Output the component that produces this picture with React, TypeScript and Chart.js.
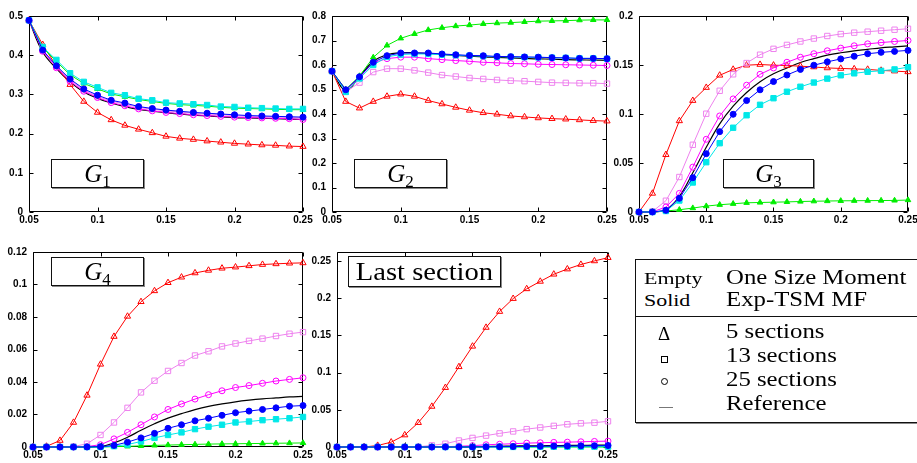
import React, { useEffect, useRef } from "react";
import { Chart, registerables } from "chart.js";

Chart.register(...registerables);

// ---------- data ----------
const X_VALUES = [0.05, 0.06, 0.07, 0.08, 0.09, 0.1, 0.11, 0.12, 0.13, 0.14, 0.15, 0.16, 0.17, 0.18, 0.19, 0.2, 0.21, 0.22, 0.23, 0.24, 0.25];

// G1
const G1_EMPTY_5 = [0.489, 0.427, 0.372, 0.325, 0.282, 0.254, 0.235, 0.221, 0.211, 0.202, 0.193, 0.188, 0.185, 0.181, 0.178, 0.175, 0.173, 0.171, 0.17, 0.168, 0.167];
const G1_EMPTY_13 = [0.489, 0.412, 0.371, 0.337, 0.311, 0.295, 0.283, 0.275, 0.267, 0.262, 0.258, 0.255, 0.252, 0.25, 0.248, 0.246, 0.244, 0.243, 0.242, 0.241, 0.24];
const G1_EMPTY_25 = [0.489, 0.41, 0.368, 0.333, 0.308, 0.292, 0.279, 0.271, 0.263, 0.258, 0.254, 0.251, 0.248, 0.246, 0.244, 0.242, 0.241, 0.24, 0.239, 0.238, 0.236];
const G1_SOLID_5 = [0.489, 0.419, 0.384, 0.35, 0.328, 0.314, 0.301, 0.294, 0.287, 0.282, 0.277, 0.274, 0.272, 0.27, 0.267, 0.265, 0.264, 0.263, 0.262, 0.261, 0.261];
const G1_SOLID_13 = [0.489, 0.421, 0.388, 0.354, 0.332, 0.318, 0.304, 0.298, 0.289, 0.285, 0.279, 0.277, 0.275, 0.273, 0.269, 0.268, 0.266, 0.265, 0.264, 0.263, 0.263];
const G1_SOLID_25 = [0.489, 0.413, 0.373, 0.339, 0.314, 0.298, 0.285, 0.278, 0.269, 0.264, 0.26, 0.257, 0.254, 0.252, 0.25, 0.248, 0.246, 0.245, 0.244, 0.243, 0.242];
const G1_REF = [0.489, 0.408, 0.366, 0.332, 0.306, 0.29, 0.278, 0.269, 0.262, 0.257, 0.253, 0.25, 0.247, 0.245, 0.243, 0.241, 0.24, 0.239, 0.238, 0.237, 0.236];

// G2
const G2_EMPTY_5 = [0.575, 0.451, 0.424, 0.451, 0.472, 0.481, 0.472, 0.455, 0.441, 0.427, 0.415, 0.405, 0.399, 0.392, 0.388, 0.384, 0.381, 0.379, 0.376, 0.373, 0.371];
const G2_EMPTY_13 = [0.575, 0.491, 0.528, 0.571, 0.585, 0.585, 0.578, 0.569, 0.559, 0.553, 0.547, 0.543, 0.539, 0.536, 0.534, 0.531, 0.528, 0.527, 0.526, 0.526, 0.524];
const G2_EMPTY_25 = [0.575, 0.495, 0.55, 0.609, 0.626, 0.632, 0.632, 0.626, 0.622, 0.618, 0.615, 0.611, 0.609, 0.606, 0.605, 0.603, 0.602, 0.601, 0.6, 0.599, 0.598];
const G2_SOLID_5 = [0.575, 0.5, 0.555, 0.631, 0.68, 0.709, 0.727, 0.743, 0.752, 0.759, 0.763, 0.768, 0.771, 0.773, 0.776, 0.779, 0.78, 0.781, 0.783, 0.784, 0.784];
const G2_SOLID_13 = [0.575, 0.49, 0.545, 0.6, 0.633, 0.643, 0.645, 0.645, 0.642, 0.64, 0.638, 0.636, 0.634, 0.633, 0.632, 0.631, 0.63, 0.629, 0.627, 0.627, 0.625];
const G2_SOLID_25 = [0.575, 0.499, 0.552, 0.611, 0.638, 0.649, 0.649, 0.649, 0.645, 0.642, 0.639, 0.638, 0.635, 0.634, 0.633, 0.632, 0.63, 0.629, 0.627, 0.627, 0.626];
const G2_REF = [0.575, 0.497, 0.553, 0.615, 0.642, 0.65, 0.65, 0.647, 0.643, 0.639, 0.636, 0.633, 0.631, 0.629, 0.627, 0.625, 0.624, 0.622, 0.621, 0.62, 0.619];

// G3
const G3_EMPTY_5 = [0, 0.019, 0.0585, 0.093, 0.1137, 0.127, 0.1395, 0.1455, 0.1498, 0.1505, 0.1498, 0.1495, 0.1488, 0.148, 0.147, 0.1465, 0.146, 0.1455, 0.1445, 0.1438, 0.143];
const G3_EMPTY_13 = [0, 0.0005, 0.0115, 0.0357, 0.0686, 0.1003, 0.1237, 0.1405, 0.152, 0.1605, 0.1665, 0.1705, 0.174, 0.177, 0.1796, 0.1816, 0.183, 0.184, 0.185, 0.186, 0.187];
const G3_EMPTY_25 = [0, 0.0002, 0.005, 0.019, 0.0458, 0.0742, 0.098, 0.1154, 0.1294, 0.1405, 0.147, 0.1528, 0.1579, 0.1615, 0.1645, 0.1672, 0.1696, 0.1716, 0.1729, 0.174, 0.175];
const G3_SOLID_5 = [0, 0.0002, 0.001, 0.0023, 0.004, 0.006, 0.0074, 0.0084, 0.0094, 0.0097, 0.01, 0.0103, 0.0107, 0.011, 0.0112, 0.0114, 0.0115, 0.0116, 0.0117, 0.0118, 0.0122];
const G3_SOLID_13 = [0, 0, 0.001, 0.0117, 0.0301, 0.0508, 0.0702, 0.086, 0.0987, 0.1094, 0.1161, 0.1227, 0.1278, 0.1321, 0.1361, 0.1395, 0.1415, 0.1431, 0.1441, 0.1455, 0.1478];
const G3_SOLID_25 = [0, 0, 0.0017, 0.014, 0.035, 0.0595, 0.082, 0.0997, 0.1137, 0.1247, 0.1331, 0.1398, 0.1455, 0.1498, 0.1532, 0.1562, 0.1589, 0.1615, 0.1629, 0.1639, 0.1649];
const G3_REF = [0, 0, 0.002, 0.016, 0.04, 0.066, 0.09, 0.108, 0.122, 0.133, 0.141, 0.147, 0.1525, 0.1565, 0.16, 0.1625, 0.1645, 0.166, 0.1675, 0.1685, 0.1695];

// G4
const G4_EMPTY_5 = [0, 0.0004, 0.004, 0.0151, 0.0318, 0.0509, 0.068, 0.0804, 0.0894, 0.0961, 0.1011, 0.1045, 0.1071, 0.1087, 0.11, 0.1107, 0.1115, 0.1123, 0.1127, 0.1131, 0.1133];
const G4_EMPTY_13 = [0, 0, 0, 0.0003, 0.002, 0.0074, 0.0151, 0.0241, 0.0336, 0.0408, 0.0468, 0.0517, 0.0563, 0.0589, 0.0619, 0.0637, 0.0653, 0.0667, 0.0683, 0.0697, 0.0707];
const G4_EMPTY_25 = [0, 0, 0, 0, 0.0003, 0.0014, 0.005, 0.009, 0.0137, 0.0185, 0.0231, 0.0265, 0.0295, 0.0322, 0.0346, 0.0366, 0.0378, 0.0392, 0.0406, 0.0416, 0.0426];
const G4_SOLID_5 = [0, 0, 0, 0, 0, 0, 0.0002, 0.0004, 0.0007, 0.001, 0.0012, 0.0014, 0.0016, 0.0018, 0.0019, 0.002, 0.0021, 0.0022, 0.0023, 0.0024, 0.0025];
const G4_SOLID_13 = [0, 0, 0, 0, 0, 0, 0.0005, 0.0015, 0.0034, 0.0056, 0.0074, 0.009, 0.011, 0.0125, 0.0137, 0.0151, 0.0157, 0.0165, 0.0171, 0.0177, 0.0185];
const G4_SOLID_25 = [0, 0, 0, 0, 0, 0.0002, 0.001, 0.003, 0.0056, 0.0084, 0.0115, 0.0137, 0.0161, 0.0177, 0.0195, 0.0211, 0.0221, 0.0231, 0.0241, 0.0251, 0.0255];
const G4_REF = [0, 0, 0, 0, 0, 0.0003, 0.0025, 0.006, 0.0103, 0.0143, 0.0178, 0.0205, 0.023, 0.025, 0.0265, 0.0278, 0.0288, 0.0296, 0.0302, 0.0308, 0.0311];

// Last section
const LS_EMPTY_5 = [0, 0, 0, 0.002, 0.0065, 0.0161, 0.0327, 0.0545, 0.0798, 0.1078, 0.1353, 0.1606, 0.182, 0.1994, 0.2125, 0.2225, 0.2321, 0.2391, 0.2452, 0.25, 0.2544];
const LS_EMPTY_13 = [0, 0, 0, 0, 0, 0, 0.0003, 0.0022, 0.0044, 0.0087, 0.0122, 0.0153, 0.0183, 0.0209, 0.024, 0.0262, 0.0284, 0.0305, 0.0318, 0.0327, 0.0345];
const LS_EMPTY_25 = [0, 0, 0, 0, 0, 0, 0, 0, 0.0004, 0.001, 0.0018, 0.003, 0.0037, 0.0044, 0.0052, 0.0057, 0.0062, 0.0065, 0.007, 0.0075, 0.0079];
const LS_SOLID_5 = [0, 0, 0, 0, 0, 0, 0, 0, 0, 0, 0, 0, 0, 0, 0, 0, 0, 0, 0, 0, 0];
const LS_SOLID_13 = [0, 0, 0, 0, 0, 0, 0, 0, 0, 0, 0, 0, 0.0001, 0.0001, 0.0002, 0.0002, 0.0003, 0.0003, 0.0004, 0.0004, 0.0005];
const LS_SOLID_25 = [0, 0, 0, 0, 0, 0, 0, 0, 0, 0, 0, 0.0002, 0.0004, 0.0006, 0.0008, 0.001, 0.0012, 0.0014, 0.0016, 0.0018, 0.002];
const LS_REF = [0, 0, 0, 0, 0, 0, 0, 0, 0, 0.0002, 0.0004, 0.0007, 0.001, 0.0013, 0.0015, 0.0017, 0.0019, 0.0021, 0.0022, 0.0024, 0.0025];

const LEGEND_HEAD = ["Empty", "Solid"];
const LEGEND_METHODS = ["One Size Moment", "Exp-TSM MF"];
const LEGEND_ROWS = ["5 sections", "13 sections", "25 sections", "Reference"];

// ---------- styles ----------
type StyleKey = "solid25" | "solid13" | "solid5" | "empty25" | "empty13" | "empty5" | "ref";
const DRAW_ORDER: StyleKey[] = ["solid25", "solid13", "solid5", "empty25", "empty13", "empty5", "ref"];
const SERIES_STYLE: Record<StyleKey, { color: string; shape: any; filled: boolean; r: number; lw: number }> = {
  solid25: { color: "#0000ff", shape: "circle", filled: true, r: 3, lw: 1 },
  solid13: { color: "#00e8e8", shape: "rect", filled: true, r: 3.8, lw: 1 },
  solid5: { color: "#00ee00", shape: "triangle", filled: true, r: 3.2, lw: 1 },
  empty25: { color: "#ff00ff", shape: "circle", filled: false, r: 3, lw: 1 },
  empty13: { color: "#ee82ee", shape: "rect", filled: false, r: 3.8, lw: 1 },
  empty5: { color: "#ff0000", shape: "triangle", filled: false, r: 3.6, lw: 1 },
  ref: { color: "#000000", shape: false, filled: false, r: 0, lw: 1.2 },
};

const AXIS_W = 30;
const AXIS_H = 15;
const PAD_T = 8;
const PAD_R = 14;

type Panel = {
  id: string;
  left: number; top: number; right: number; bottom: number;
  yMax: number; yStep: number;
  series: Record<StyleKey, number[]>;
};

const PANELS: Panel[] = [
  { id: "g1", left: 29, top: 12, right: 303, bottom: 212, yMax: 0.5, yStep: 0.1,
    series: { empty5: G1_EMPTY_5, empty13: G1_EMPTY_13, empty25: G1_EMPTY_25, solid5: G1_SOLID_5, solid13: G1_SOLID_13, solid25: G1_SOLID_25, ref: G1_REF } },
  { id: "g2", left: 332, top: 12, right: 607, bottom: 212, yMax: 0.8, yStep: 0.1,
    series: { empty5: G2_EMPTY_5, empty13: G2_EMPTY_13, empty25: G2_EMPTY_25, solid5: G2_SOLID_5, solid13: G2_SOLID_13, solid25: G2_SOLID_25, ref: G2_REF } },
  { id: "g3", left: 639, top: 12, right: 908, bottom: 212, yMax: 0.2, yStep: 0.05,
    series: { empty5: G3_EMPTY_5, empty13: G3_EMPTY_13, empty25: G3_EMPTY_25, solid5: G3_SOLID_5, solid13: G3_SOLID_13, solid25: G3_SOLID_25, ref: G3_REF } },
  { id: "g4", left: 33, top: 248, right: 303, bottom: 447, yMax: 0.12, yStep: 0.02,
    series: { empty5: G4_EMPTY_5, empty13: G4_EMPTY_13, empty25: G4_EMPTY_25, solid5: G4_SOLID_5, solid13: G4_SOLID_13, solid25: G4_SOLID_25, ref: G4_REF } },
  { id: "last", left: 337, top: 248, right: 608, bottom: 447, yMax: 0.262, yStep: 0.05,
    series: { empty5: LS_EMPTY_5, empty13: LS_EMPTY_13, empty25: LS_EMPTY_25, solid5: LS_SOLID_5, solid13: LS_SOLID_13, solid25: LS_SOLID_25, ref: LS_REF } },
];

const fmt = (v: number) => String(Number(Number(v).toFixed(3)));
const TICK_FONT = { family: "'Liberation Sans', Arial, sans-serif", size: 10, weight: "bold" as const };

const framePlugin = {
  id: "frame",
  beforeDatasetsDraw(chart: any) {
    const { ctx, chartArea, scales } = chart;
    const { left, top, right, bottom } = chartArea;
    const L = Math.round(left) + 0.5, R = Math.round(right) - 0.5;
    const T = Math.round(top) + 0.5, B = Math.round(bottom) - 0.5;
    ctx.save();
    ctx.strokeStyle = "#000";
    ctx.lineWidth = 1;
    ctx.beginPath();
    ctx.rect(L, T, R - L, B - T);
    const tl = 4;
    scales.x.ticks.forEach((t: any) => {
      const px = Math.round(scales.x.getPixelForValue(t.value)) + 0.5;
      ctx.moveTo(px, B); ctx.lineTo(px, B - tl);
      ctx.moveTo(px, T); ctx.lineTo(px, T + tl);
    });
    scales.y.ticks.forEach((t: any) => {
      const py = Math.round(scales.y.getPixelForValue(t.value)) + 0.5;
      ctx.moveTo(L, py); ctx.lineTo(L + tl, py);
      ctx.moveTo(R, py); ctx.lineTo(R - tl, py);
    });
    ctx.stroke();
    ctx.restore();
  },
};

function PanelChart({ panel }: { panel: Panel }) {
  const ref = useRef<HTMLCanvasElement | null>(null);
  const W = panel.right - panel.left + AXIS_W + PAD_R;
  const H = panel.bottom - panel.top + PAD_T + AXIS_H;
  useEffect(() => {
    if (!ref.current) return;
    const datasets = DRAW_ORDER.map((key) => {
      const st = SERIES_STYLE[key];
      const vals = panel.series[key];
      return {
        label: key,
        data: X_VALUES.map((x, i) => ({ x, y: vals[i] })),
        borderColor: st.color,
        backgroundColor: st.color,
        borderWidth: st.lw,
        pointStyle: st.shape,
        pointRadius: st.r,
        pointBorderWidth: 1,
        pointBorderColor: st.color,
        pointBackgroundColor: st.filled ? st.color : "rgba(0,0,0,0)",
        tension: key === "ref" ? 0.4 : 0,
        fill: false,
        clip: false as any,
      };
    });
    const chart = new Chart(ref.current, {
      type: "line",
      data: { datasets },
      options: {
        animation: false,
        responsive: false,
        maintainAspectRatio: false,
        events: [],
        layout: { padding: { top: PAD_T, right: PAD_R, left: 0, bottom: 0 } },
        plugins: { legend: { display: false }, tooltip: { enabled: false } },
        scales: {
          x: {
            type: "linear",
            min: 0.05,
            max: 0.25,
            afterFit: (s: any) => { s.height = AXIS_H; },
            grid: { display: false, drawTicks: false },
            border: { display: false },
            ticks: {
              stepSize: 0.05, includeBounds: false, autoSkip: false, maxRotation: 0,
              padding: 2, color: "#000", font: TICK_FONT,
              callback: (v: any) => fmt(v),
            },
          },
          y: {
            type: "linear",
            min: 0,
            max: panel.yMax,
            afterFit: (s: any) => { s.width = AXIS_W; },
            grid: { display: false, drawTicks: false },
            border: { display: false },
            ticks: {
              stepSize: panel.yStep, includeBounds: false, autoSkip: false,
              padding: 6, color: "#000", font: TICK_FONT,
              callback: (v: any) => fmt(v),
            },
          },
        },
      } as any,
      plugins: [framePlugin],
    });
    return () => chart.destroy();
  }, [panel]);
  return (
    <canvas
      ref={ref}
      width={W}
      height={H}
      style={{ position: "absolute", left: panel.left - AXIS_W, top: panel.top - PAD_T, width: W, height: H }}
    />
  );
}

const SERIF = "'Liberation Serif', 'Times New Roman', serif";

function LabelBox({ left, top, width, height, children }: any) {
  return (
    <div
      style={{
        position: "absolute", left, top, width, height, boxSizing: "border-box",
        border: "1px solid #111", boxShadow: "1px 1px 0 #888", background: "#fff",
        display: "flex", alignItems: "center", justifyContent: "center",
        fontFamily: SERIF, color: "#000", whiteSpace: "nowrap",
      }}
    >
      {children}
    </div>
  );
}

function GLabel({ n }: { n: string }) {
  return (
    <span style={{ fontSize: 25, lineHeight: 1 }}>
      <span style={{ fontStyle: "italic" }}>G</span>
      <span style={{ fontSize: 17, position: "relative", top: 5 }}>{n}</span>
    </span>
  );
}

function Txt({ x, baseline, size, scale, children }: any) {
  return (
    <div
      style={{
        position: "absolute", left: x, top: baseline - 0.8375 * size,
        fontFamily: SERIF, fontSize: size, lineHeight: `${size}px`, color: "#000",
        whiteSpace: "nowrap", transform: `scaleX(${scale})`, transformOrigin: "0 0",
      }}
    >
      {children}
    </div>
  );
}

export default function App() {
  return (
    <div style={{ position: "fixed", left: 0, top: 0, width: 917, height: 463, background: "#fff", overflow: "hidden" }}>
      {PANELS.map((p) => <PanelChart key={p.id} panel={p} />)}

      <LabelBox left={51} top={159} width={93} height={29}><GLabel n="1" /></LabelBox>
      <LabelBox left={354} top={159} width={93} height={29}><GLabel n="2" /></LabelBox>
      <LabelBox left={723} top={159} width={91} height={29}><GLabel n="3" /></LabelBox>
      <LabelBox left={51} top={257} width={93} height={29}><GLabel n="4" /></LabelBox>
      <LabelBox left={348} top={256} width={153} height={31}>
        <span style={{ fontSize: 26, lineHeight: 1, display: "inline-block", transform: "scaleX(1.1)" }}>Last section</span>
      </LabelBox>

      {/* legend table */}
      <div style={{ position: "absolute", left: 635, top: 259, width: 300, height: 164, boxSizing: "border-box", border: "1px solid #111", boxShadow: "1px 1px 0 #888" }} />
      <div style={{ position: "absolute", left: 635, top: 316, width: 300, height: 1, background: "#111" }} />
      <Txt x={644} baseline={285} size={16.5} scale={1.33}>{LEGEND_HEAD[0]}</Txt>
      <Txt x={644} baseline={307} size={16.5} scale={1.33}>{LEGEND_HEAD[1]}</Txt>
      <Txt x={726} baseline={285} size={21} scale={1.18}>{LEGEND_METHODS[0]}</Txt>
      <Txt x={726} baseline={307} size={21} scale={1.18}>{LEGEND_METHODS[1]}</Txt>
      <Txt x={658} baseline={340} size={18} scale={1.05}>Δ</Txt>
      <div style={{ position: "absolute", left: 661, top: 356, width: 7, height: 7, boxSizing: "border-box", border: "1px solid #000" }} />
      <div style={{ position: "absolute", left: 661, top: 378, width: 7, height: 7, boxSizing: "border-box", border: "1px solid #000", borderRadius: "50%" }} />
      <div style={{ position: "absolute", left: 659, top: 407, width: 14, height: 1, background: "#777" }} />
      {LEGEND_ROWS.map((r, i) => (
        <Txt key={r} x={726} baseline={339 + i * 24} size={21} scale={1.18}>{r}</Txt>
      ))}
    </div>
  );
}
